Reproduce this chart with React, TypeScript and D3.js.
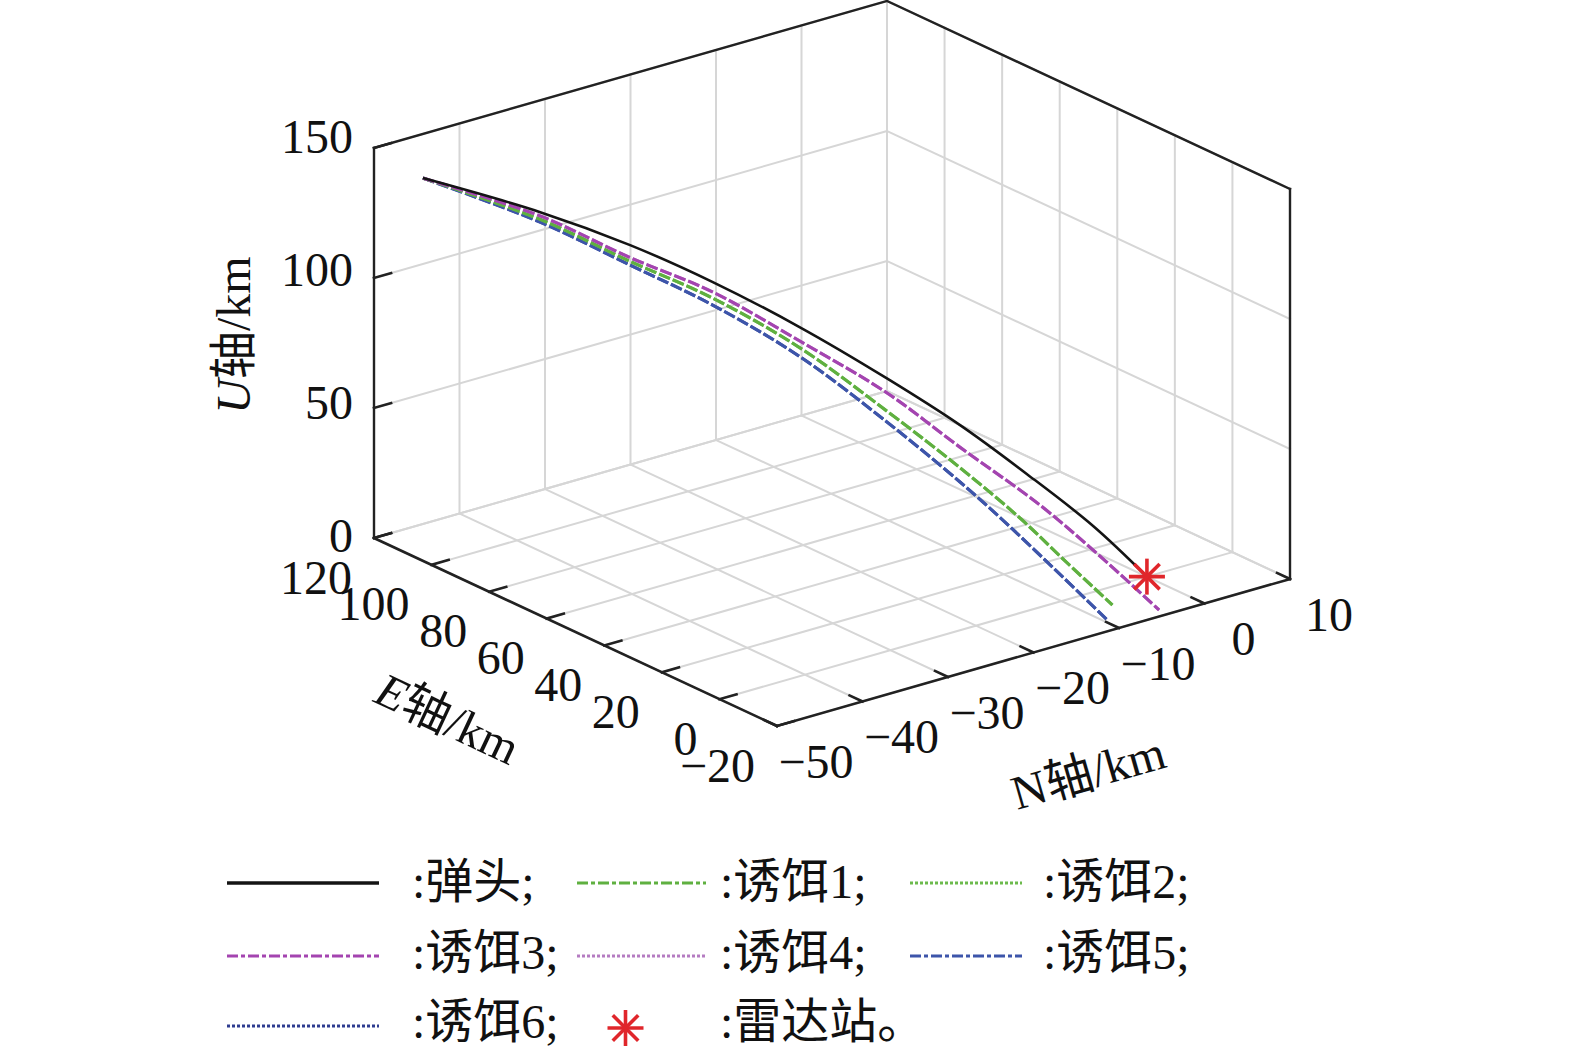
import { useRef, useEffect } from 'react'
import * as d3 from 'd3'

// axis ticks
const E_TICKS = [-20, 0, 20, 40, 60, 80, 100, 120]
const N_TICKS = [-50, -40, -30, -20, -10, 0, 10]
const U_TICKS = [0, 50, 100, 150]

// trajectories in km (E, N, U)
const WARHEAD_E = [103, 86.3, 73.5, 61.7, 49.4, 37.0, 26.6, 17.1, 7.7, 0]
const WARHEAD_N = [-50, -41.9, -35.7, -30.0, -24.0, -18.0, -12.9, -8.3, -3.7, 0]
const WARHEAD_U = [147.2, 135.1, 123.2, 109.7, 93.1, 74.2, 56.7, 38.5, 19.0, 0]

const DECOY12_E = [103, 84.0, 69.5, 56.1, 42.0, 27.9, 16.1, 6.4, -1.1, -8.5]
const DECOY12_N = [-50, -42.7, -37.1, -31.9, -26.4, -21.0, -16.4, -12.7, -9.8, -6.9]
const DECOY12_U = [147.2, 134.3, 120.4, 108.2, 91.1, 69.0, 48.9, 31.2, 15.4, 0]

const DECOY34_E = [103, 83.9, 69.3, 55.7, 41.5, 27.3, 15.4, 2.4, -7.4, -17]
const DECOY34_N = [-50, -42.7, -37.2, -32.0, -26.6, -21.2, -16.7, -11.7, -8.0, -4.3]
const DECOY34_U = [147.2, 135.6, 122.1, 110.8, 94.2, 76.5, 57.6, 37.3, 19.3, 0]

const DECOY56_E = [103, 82.9, 67.3, 53.1, 38.1, 23.2, 10.6, 3.7, -5.6, -14.7]
const DECOY56_N = [-50, -43.1, -37.8, -32.9, -27.7, -22.6, -18.3, -15.9, -12.7, -9.6]
const DECOY56_U = [147.2, 134.2, 120.7, 108.0, 90.9, 68.8, 48.2, 35.7, 17.8, 0]

const RADAR = [0, 0, 0]

const LABELS = [':弹头;', ':诱饵1;', ':诱饵2;', ':诱饵3;', ':诱饵4;', ':诱饵5;', ':诱饵6;']
const RADAR_LABEL = ':雷达站。'

const FONT = "'Times New Roman', 'Liberation Serif', 'Noto Sans CJK SC', serif"

interface LineStyle { color: string; dash: string | null; plotDash: string | null; width: number }

const STYLES: LineStyle[] = [
  { color: '#141414', dash: null, plotDash: null, width: 2.6 },
  { color: '#5fb040', dash: '11,3,4,3', plotDash: '12,3', width: 3.2 },
  { color: '#6cba4c', dash: '3,2', plotDash: '12,3', width: 2.8 },
  { color: '#a444b0', dash: '11,3,4,3', plotDash: '12,3', width: 3.2 },
  { color: '#b57cc2', dash: '3,2', plotDash: '12,3', width: 2.8 },
  { color: '#3d55aa', dash: '11,3,4,3', plotDash: '12,3', width: 3.2 },
  { color: '#2e3c90', dash: '3,2', plotDash: '12,3', width: 2.8 },
]

export default function App() {
  const svgRef = useRef<SVGSVGElement>(null)

  useEffect(() => {
    if (!svgRef.current) return
    const svg = d3.select(svgRef.current)
    svg.selectAll('*').remove()

    // oblique projection of the box: origin at (E=-20, N=-50, U=0)
    const origin = [777, 726]
    const eVec = [-403, -188]
    const nVec = [513, -147]
    const uVec = [0, -390]
    const eS = d3.scaleLinear().domain([-20, 120]).range([0, 1])
    const nS = d3.scaleLinear().domain([-50, 10]).range([0, 1])
    const uS = d3.scaleLinear().domain([0, 150]).range([0, 1])
    const proj = (e: number, n: number, u: number): [number, number] => [
      origin[0] + eS(e) * eVec[0] + nS(n) * nVec[0] + uS(u) * uVec[0],
      origin[1] + eS(e) * eVec[1] + nS(n) * nVec[1] + uS(u) * uVec[1],
    ]

    const seg = (g: d3.Selection<SVGGElement, unknown, null, undefined>,
      a: [number, number], b: [number, number], stroke: string, w: number) =>
      g.append('line').attr('x1', a[0]).attr('y1', a[1]).attr('x2', b[0]).attr('y2', b[1])
        .attr('stroke', stroke).attr('stroke-width', w).attr('stroke-linecap', 'square')

    const [eMin, eMax] = eS.domain()
    const [nMin, nMax] = nS.domain()
    const [uMin, uMax] = uS.domain()

    // Grid
    const grid = svg.append('g')
    const gc = '#d6d6d6'
    for (const e of E_TICKS) {
      seg(grid, proj(e, nMin, 0), proj(e, nMax, 0), gc, 2)
      seg(grid, proj(e, nMax, uMin), proj(e, nMax, uMax), gc, 2)
    }
    for (const n of N_TICKS) {
      seg(grid, proj(eMin, n, 0), proj(eMax, n, 0), gc, 2)
      seg(grid, proj(eMax, n, uMin), proj(eMax, n, uMax), gc, 2)
    }
    for (const u of U_TICKS) {
      seg(grid, proj(eMax, nMin, u), proj(eMax, nMax, u), gc, 2)
      seg(grid, proj(eMin, nMax, u), proj(eMax, nMax, u), gc, 2)
    }

    // Box + axes
    const box = svg.append('g')
    const bc = '#222222'
    seg(box, proj(eMax, nMin, uMin), proj(eMax, nMin, uMax), bc, 2.4)
    seg(box, proj(eMax, nMin, uMax), proj(eMax, nMax, uMax), bc, 2.4)
    seg(box, proj(eMax, nMax, uMax), proj(eMin, nMax, uMax), bc, 2.4)
    seg(box, proj(eMin, nMax, uMax), proj(eMin, nMax, uMin), bc, 2.4)
    seg(box, proj(eMax, nMin, uMin), proj(eMin, nMin, uMin), bc, 2.6)
    seg(box, proj(eMin, nMin, uMin), proj(eMin, nMax, uMin), bc, 2.6)

    for (const e of E_TICKS) seg(box, proj(e, nMin, 0), proj(e, nMin + 2, 0), bc, 2.6)
    for (const n of N_TICKS) seg(box, proj(eMin, n, 0), proj(eMin + 4.5, n, 0), bc, 2.6)
    for (const u of U_TICKS) seg(box, proj(eMax, nMin, u), proj(eMax, nMin + 2, u), bc, 2.6)

    // Tick labels
    const fmt = d3.format('d')
    const labels = svg.append('g')
      .style('font-family', FONT).style('font-size', '48px').attr('fill', '#111')
    for (const u of U_TICKS) {
      const p = proj(eMax, nMin, u)
      labels.append('text').attr('x', p[0] - 21).attr('y', p[1] - 3 - uS(u) * 9)
        .attr('text-anchor', 'end').attr('dominant-baseline', 'central').text(fmt(u))
    }
    for (const e of E_TICKS) {
      const p = proj(e, nMin, 0)
      labels.append('text').attr('x', p[0] - 22).attr('y', p[1] + 39)
        .attr('text-anchor', 'end').attr('dominant-baseline', 'central').text(fmt(e))
    }
    for (const n of N_TICKS) {
      const p = proj(eMin, n, 0)
      labels.append('text').attr('x', p[0] + 39).attr('y', p[1] + 35)
        .attr('text-anchor', 'middle').attr('dominant-baseline', 'central').text(fmt(n))
    }

    // Axis titles
    const title = (x: number, y: number, rot: number, head: string, italic: boolean) => {
      const t = labels.append('text')
        .attr('transform', `translate(${x},${y}) rotate(${rot})`)
        .attr('text-anchor', 'middle').attr('dominant-baseline', 'central')
      t.append('tspan').style('font-style', italic ? 'italic' : 'normal').text(head)
      t.append('tspan').text('轴/km')
    }
    title(233, 335, -90, 'U', true)
    title(448, 718, 25, 'E', true)
    title(1088, 772, -16, 'N', false)

    // Trajectories
    const line = d3.line<[number, number]>().curve(d3.curveCatmullRom.alpha(0.5))
    const tracks = [
      [WARHEAD_E, WARHEAD_N, WARHEAD_U],
      [DECOY12_E, DECOY12_N, DECOY12_U],
      [DECOY12_E, DECOY12_N, DECOY12_U],
      [DECOY34_E, DECOY34_N, DECOY34_U],
      [DECOY34_E, DECOY34_N, DECOY34_U],
      [DECOY56_E, DECOY56_N, DECOY56_U],
      [DECOY56_E, DECOY56_N, DECOY56_U],
    ]
    const curves = svg.append('g').attr('fill', 'none')
    const order = [6, 5, 2, 1, 4, 3, 0]
    for (const i of order) {
      const [es, ns, us] = tracks[i]
      const pts = es.map((e, k) => proj(e, ns[k], us[k]))
      const st = STYLES[i]
      curves.append('path').attr('d', line(pts))
        .attr('stroke', st.color).attr('stroke-width', st.width)
        .attr('stroke-dasharray', st.plotDash)
    }

    const star = (cx: number, cy: number, r: number) => {
      const g = svg.append('g').attr('stroke', '#e0262b').attr('stroke-width', 3.6)
      for (const a of [0, 45, 90, 135]) {
        const rad = (a * Math.PI) / 180
        g.append('line')
          .attr('x1', cx - r * Math.cos(rad)).attr('y1', cy - r * Math.sin(rad))
          .attr('x2', cx + r * Math.cos(rad)).attr('y2', cy + r * Math.sin(rad))
      }
    }
    const rp = proj(RADAR[0], RADAR[1], RADAR[2])
    star(rp[0], rp[1], 18)

    // Legend
    const colX0 = [227, 577, 910]
    const colX1 = [379, 706, 1022]
    const textX = [412, 720, 1043]
    const rowY = [883, 956, 1026]
    const textY = [881, 952, 1021]
    const legend = svg.append('g')
      .style('font-family', FONT).style('font-size', '48px').attr('fill', '#111')
    LABELS.forEach((lab, i) => {
      const c = i % 3, r = Math.floor(i / 3)
      const st = STYLES[i]
      legend.append('line').attr('x1', colX0[c]).attr('x2', colX1[c])
        .attr('y1', rowY[r]).attr('y2', rowY[r])
        .attr('stroke', st.color).attr('stroke-width', st.dash ? 3.2 : 3.6)
        .attr('stroke-dasharray', st.dash)
      legend.append('text').attr('x', textX[c]).attr('y', textY[r])
        .attr('dominant-baseline', 'central').text(lab)
    })
    star((colX0[1] + colX1[1]) / 2 - 16, rowY[2] + 2, 18)
    legend.append('text').attr('x', textX[1]).attr('y', textY[2])
      .attr('dominant-baseline', 'central').text(RADAR_LABEL)
  }, [])

  return (
    <svg ref={svgRef} width={1575} height={1051}
      style={{ position: 'absolute', left: 0, top: 0, background: '#fff' }} />
  )
}
